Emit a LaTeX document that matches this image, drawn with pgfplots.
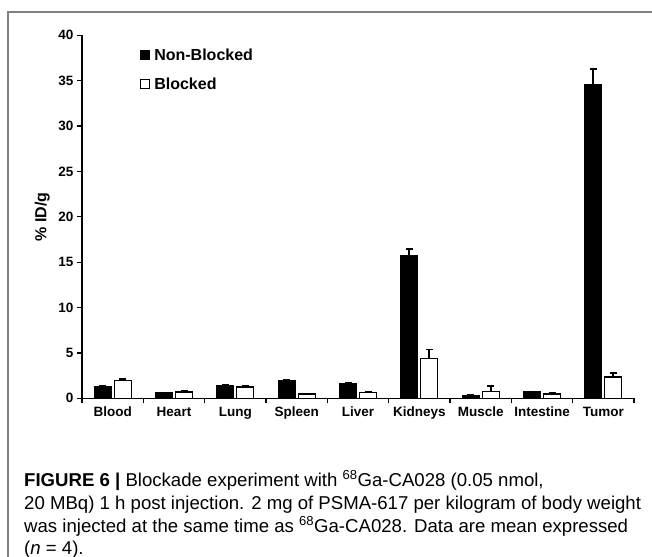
\documentclass[border=0pt]{standalone}
\usepackage{pgfplots}
\pgfplotsset{compat=1.18}
\usepackage{fontspec}
\setmainfont{Liberation Sans}

\pgfplotstableread{
x  val   err
0  1.29  0.08
1  0.60  0.05
2  1.37  0.08
3  2.00  0.06
4  1.60  0.06
5  15.71 0.74
6  0.35  0.03
7  0.70  0.03
8  34.52 1.73
}\nonblocked
\pgfplotstableread{
x  val   err
0  2.00  0.15
1  0.70  0.12
2  1.25  0.15
3  0.48  0.04
4  0.63  0.12
5  4.37  1.00
6  0.77  0.58
7  0.48  0.10
8  2.35  0.45
}\blocked

\newcommand{\tickfont}{\bfseries\fontsize{13.5bp}{15bp}\selectfont}
\newcommand{\legfont}{\bfseries\fontsize{16bp}{18bp}\selectfont}

\begin{document}
\begin{tikzpicture}[x=1bp,y=1bp]
\path[use as bounding box] (0,0) rectangle (652,-557);
\draw[gray, line width=1.3bp] (652,-12) -- (8,-12) -- (8,-557);
\begin{axis}[
  at={(82bp,-398.3bp)}, anchor=south west,
  scale only axis, width=552bp, height=363bp,
  ymin=0, ymax=40, ytick={0,5,...,40},
  xmin=-0.5, xmax=8.5,
  axis x line*=bottom, axis y line*=left,
  axis line style={line width=1.4bp, black},
  tick style={line width=1.2bp, black},
  tick align=outside, major tick length=5bp,
  xtick={-0.5,0.5,...,8.5},
  x tick label as interval,
  xticklabels={Blood,Heart,Lung,Spleen,Liver,Kidneys,Muscle,Intestine,Tumor},
  yticklabel style={font=\tickfont},
  xticklabel style={font=\tickfont},
  /pgf/number format/assume math mode=true,
  ylabel={\bfseries\fontsize{16bp}{18bp}\selectfont \% ID/g},
  ylabel style={at={(axis description cs:-0.072,0.5)}, anchor=center},
  ybar=3bp, bar width=17bp,
  legend style={draw=none, fill=none, at={(0.104,0.971)}, anchor=north west,
                nodes={font=\legfont, inner sep=2.5bp},
                row sep=11bp, column sep=2bp, inner sep=0pt},
  legend cell align=left,
]
\addplot[fill=black, draw=black, line width=1.2bp,
  legend image code/.code={\draw[fill=black, draw=black, line width=1.2bp] (0bp,-4.5bp) rectangle (9bp,4.5bp);},
  error bars/.cd, y dir=plus, y explicit,
  error bar style={line width=1.8bp, black},
  error mark=-,
  error mark options={rotate=90, line width=1.8bp, mark size=3.5bp, black}]
  table[x=x, y=val, y error=err] {\nonblocked};
\addlegendentry{Non-Blocked}
\addplot[fill=white, draw=black, line width=1.2bp,
  legend image code/.code={\draw[fill=white, draw=black, line width=1.2bp] (0bp,-4.5bp) rectangle (9bp,4.5bp);},
  error bars/.cd, y dir=plus, y explicit,
  error bar style={line width=1.8bp, black},
  error mark=-,
  error mark options={rotate=90, line width=1.8bp, mark size=3.5bp, black}]
  table[x=x, y=val, y error=err] {\blocked};
\addlegendentry{Blocked}
\end{axis}
\begin{scope}[every node/.style={anchor=base west, inner sep=0pt,
    font=\fontsize{18.6bp}{20bp}\selectfont}]
\node at (24,-486) {\textbf{FIGURE 6 |} Blockade experiment with \textsuperscript{68}Ga-CA028 (0.05 nmol,};
\node at (24,-509) {20 MBq) 1 h post injection. 2 mg of PSMA-617 per kilogram of body weight};
\node at (24,-532) {was injected at the same time as \textsuperscript{68}Ga-CA028. Data are mean expressed};
\node at (24,-554) {(\textit{n} = 4).};
\end{scope}
\end{tikzpicture}
\end{document}
